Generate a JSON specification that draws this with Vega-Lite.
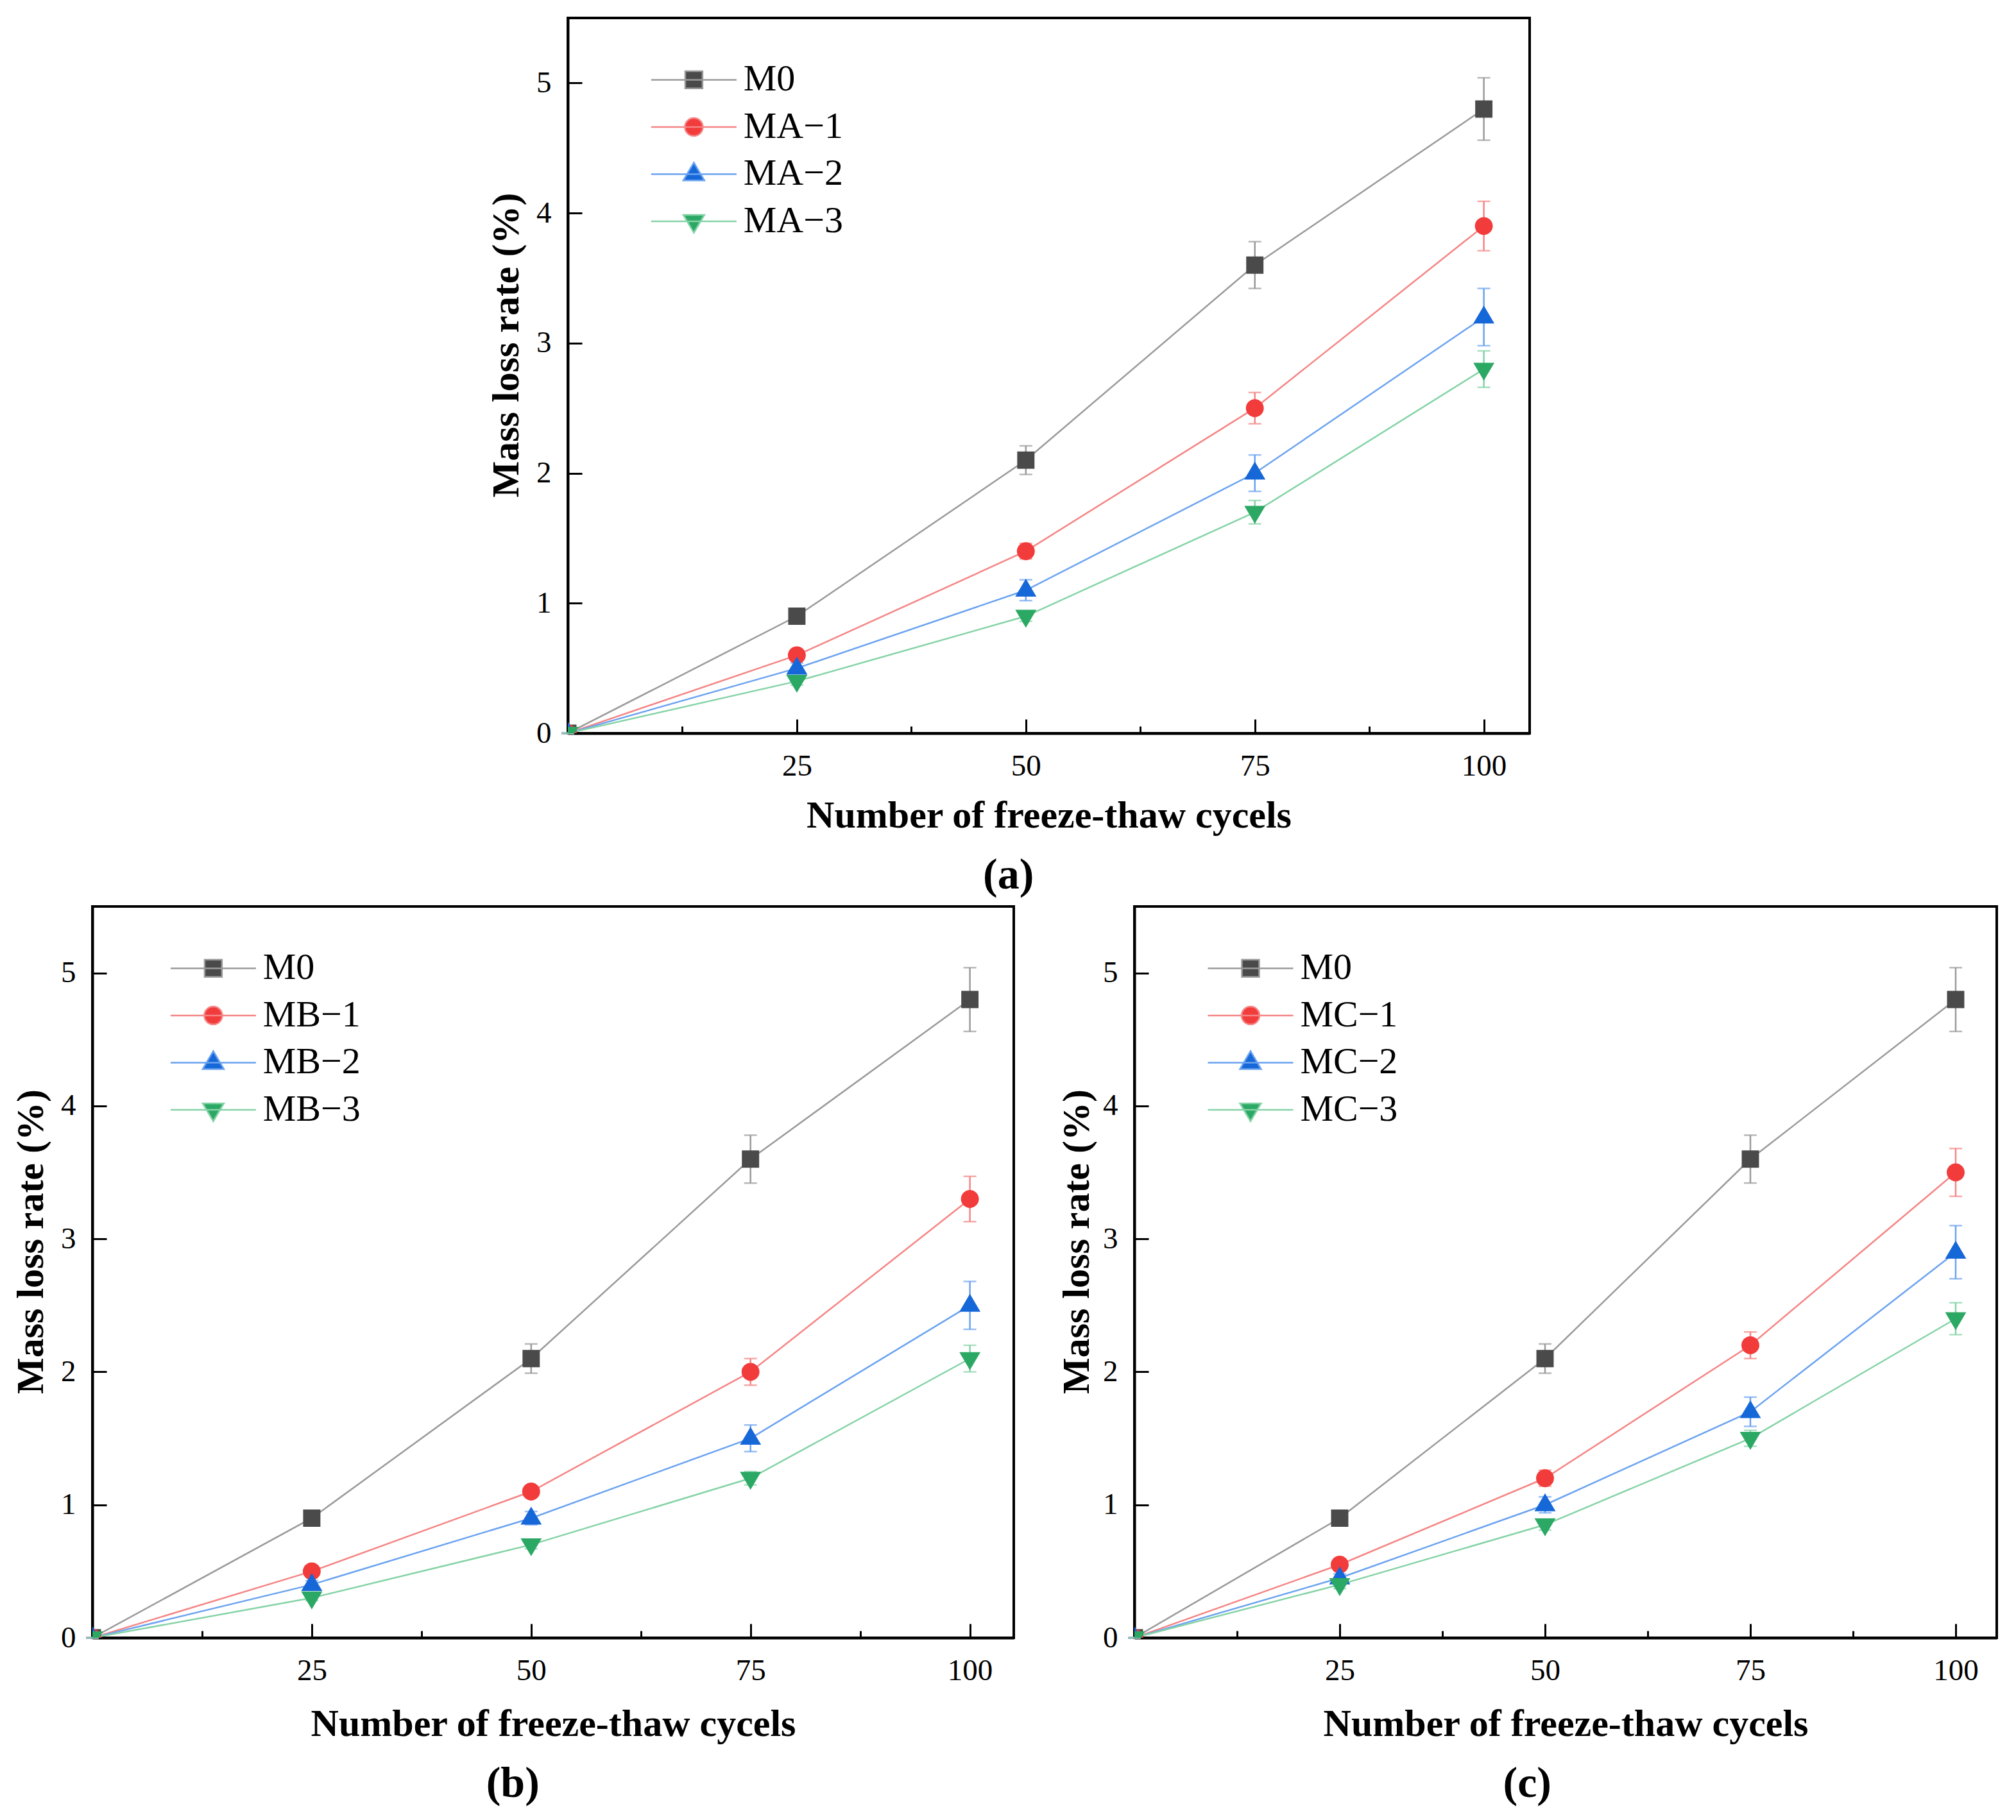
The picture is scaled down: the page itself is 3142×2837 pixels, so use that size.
{
  "$schema": "https://vega.github.io/schema/vega-lite/v6.json",
  "padding": {"left": 16, "top": 26, "right": 0, "bottom": 0},
  "datasets": {
    "pts": [
      {"p": "a", "s": "M0", "x": 0, "y": 0, "lo": 0, "hi": 0},
      {"p": "a", "s": "M0", "x": 25, "y": 0.9, "lo": 0.86, "hi": 0.94},
      {"p": "a", "s": "M0", "x": 50, "y": 2.1, "lo": 1.99, "hi": 2.21},
      {"p": "a", "s": "M0", "x": 75, "y": 3.6, "lo": 3.42, "hi": 3.78},
      {"p": "a", "s": "M0", "x": 100, "y": 4.8, "lo": 4.56, "hi": 5.04},
      {"p": "a", "s": "MA−1", "x": 0, "y": 0, "lo": 0, "hi": 0},
      {"p": "a", "s": "MA−1", "x": 25, "y": 0.6, "lo": 0.56, "hi": 0.64},
      {"p": "a", "s": "MA−1", "x": 50, "y": 1.4, "lo": 1.34, "hi": 1.46},
      {"p": "a", "s": "MA−1", "x": 75, "y": 2.5, "lo": 2.38, "hi": 2.62},
      {"p": "a", "s": "MA−1", "x": 100, "y": 3.9, "lo": 3.71, "hi": 4.09},
      {"p": "a", "s": "MA−2", "x": 0, "y": 0, "lo": 0, "hi": 0},
      {"p": "a", "s": "MA−2", "x": 25, "y": 0.5, "lo": 0.46, "hi": 0.54},
      {"p": "a", "s": "MA−2", "x": 50, "y": 1.1, "lo": 1.02, "hi": 1.18},
      {"p": "a", "s": "MA−2", "x": 75, "y": 2.0, "lo": 1.86, "hi": 2.14},
      {"p": "a", "s": "MA−2", "x": 100, "y": 3.2, "lo": 2.98, "hi": 3.42},
      {"p": "a", "s": "MA−3", "x": 0, "y": 0, "lo": 0, "hi": 0},
      {"p": "a", "s": "MA−3", "x": 25, "y": 0.4, "lo": 0.37, "hi": 0.43},
      {"p": "a", "s": "MA−3", "x": 50, "y": 0.9, "lo": 0.86, "hi": 0.94},
      {"p": "a", "s": "MA−3", "x": 75, "y": 1.7, "lo": 1.61, "hi": 1.79},
      {"p": "a", "s": "MA−3", "x": 100, "y": 2.8, "lo": 2.66, "hi": 2.94},
      {"p": "b", "s": "M0", "x": 0, "y": 0, "lo": 0, "hi": 0},
      {"p": "b", "s": "M0", "x": 25, "y": 0.9, "lo": 0.86, "hi": 0.94},
      {"p": "b", "s": "M0", "x": 50, "y": 2.1, "lo": 1.99, "hi": 2.21},
      {"p": "b", "s": "M0", "x": 75, "y": 3.6, "lo": 3.42, "hi": 3.78},
      {"p": "b", "s": "M0", "x": 100, "y": 4.8, "lo": 4.56, "hi": 5.04},
      {"p": "b", "s": "MB−1", "x": 0, "y": 0, "lo": 0, "hi": 0},
      {"p": "b", "s": "MB−1", "x": 25, "y": 0.5, "lo": 0.46, "hi": 0.54},
      {"p": "b", "s": "MB−1", "x": 50, "y": 1.1, "lo": 1.06, "hi": 1.14},
      {"p": "b", "s": "MB−1", "x": 75, "y": 2.0, "lo": 1.9, "hi": 2.1},
      {"p": "b", "s": "MB−1", "x": 100, "y": 3.3, "lo": 3.13, "hi": 3.47},
      {"p": "b", "s": "MB−2", "x": 0, "y": 0, "lo": 0, "hi": 0},
      {"p": "b", "s": "MB−2", "x": 25, "y": 0.4, "lo": 0.37, "hi": 0.43},
      {"p": "b", "s": "MB−2", "x": 50, "y": 0.9, "lo": 0.85, "hi": 0.95},
      {"p": "b", "s": "MB−2", "x": 75, "y": 1.5, "lo": 1.4, "hi": 1.6},
      {"p": "b", "s": "MB−2", "x": 100, "y": 2.5, "lo": 2.32, "hi": 2.68},
      {"p": "b", "s": "MB−3", "x": 0, "y": 0, "lo": 0, "hi": 0},
      {"p": "b", "s": "MB−3", "x": 25, "y": 0.3, "lo": 0.28, "hi": 0.32},
      {"p": "b", "s": "MB−3", "x": 50, "y": 0.7, "lo": 0.67, "hi": 0.73},
      {"p": "b", "s": "MB−3", "x": 75, "y": 1.2, "lo": 1.15, "hi": 1.25},
      {"p": "b", "s": "MB−3", "x": 100, "y": 2.1, "lo": 2.0, "hi": 2.2},
      {"p": "c", "s": "M0", "x": 0, "y": 0, "lo": 0, "hi": 0},
      {"p": "c", "s": "M0", "x": 25, "y": 0.9, "lo": 0.86, "hi": 0.94},
      {"p": "c", "s": "M0", "x": 50, "y": 2.1, "lo": 1.99, "hi": 2.21},
      {"p": "c", "s": "M0", "x": 75, "y": 3.6, "lo": 3.42, "hi": 3.78},
      {"p": "c", "s": "M0", "x": 100, "y": 4.8, "lo": 4.56, "hi": 5.04},
      {"p": "c", "s": "MC−1", "x": 0, "y": 0, "lo": 0, "hi": 0},
      {"p": "c", "s": "MC−1", "x": 25, "y": 0.55, "lo": 0.51, "hi": 0.59},
      {"p": "c", "s": "MC−1", "x": 50, "y": 1.2, "lo": 1.14, "hi": 1.26},
      {"p": "c", "s": "MC−1", "x": 75, "y": 2.2, "lo": 2.1, "hi": 2.3},
      {"p": "c", "s": "MC−1", "x": 100, "y": 3.5, "lo": 3.32, "hi": 3.68},
      {"p": "c", "s": "MC−2", "x": 0, "y": 0, "lo": 0, "hi": 0},
      {"p": "c", "s": "MC−2", "x": 25, "y": 0.45, "lo": 0.42, "hi": 0.48},
      {"p": "c", "s": "MC−2", "x": 50, "y": 1.0, "lo": 0.94, "hi": 1.06},
      {"p": "c", "s": "MC−2", "x": 75, "y": 1.7, "lo": 1.59, "hi": 1.81},
      {"p": "c", "s": "MC−2", "x": 100, "y": 2.9, "lo": 2.7, "hi": 3.1},
      {"p": "c", "s": "MC−3", "x": 0, "y": 0, "lo": 0, "hi": 0},
      {"p": "c", "s": "MC−3", "x": 25, "y": 0.4, "lo": 0.37, "hi": 0.43},
      {"p": "c", "s": "MC−3", "x": 50, "y": 0.85, "lo": 0.81, "hi": 0.89},
      {"p": "c", "s": "MC−3", "x": 75, "y": 1.5, "lo": 1.44, "hi": 1.56},
      {"p": "c", "s": "MC−3", "x": 100, "y": 2.4, "lo": 2.28, "hi": 2.52}
    ]
  },
  "data": {"name": "pts"},
  "spacing": 10,
  "vconcat": [
    {
      "bounds": "flush",
      "spacing": 0,
      "hconcat": [
        {
          "width": 741,
          "height": 1115,
          "view": {"fill": "white", "stroke": null},
          "data": {"values": []},
          "mark": "point"
        },
        {
          "width": 1499,
          "height": 1115,
          "title": {"text": "(a)"},
          "transform": [{"filter": "datum.p === 'a'"}],
          "layer": [
            {
              "mark": {"type": "line", "strokeWidth": 2.5, "clip": true},
              "encoding": {
                "x": {"field": "x", "type": "quantitative", "title": "Number of freeze-thaw cycels",
                  "scale": {"domain": [0, 105], "nice": false},
                  "axis": {"title": "Number of freeze-thaw cycels", "values": [12.5, 25, 37.5, 50, 62.5, 75, 87.5, 100], "format": "d",
                    "labelExpr": "datum.value % 25 === 0 ? datum.label : ''",
                    "tickSize": {"condition": {"test": "datum.value % 25 === 0", "value": -22}, "value": -11},
                    "labelPadding": 50, "titlePadding": 14.5}},
                "y": {"field": "y", "type": "quantitative", "title": "Mass loss rate (%)",
                  "scale": {"domain": [0, 5.5], "nice": false},
                  "axis": {"title": "Mass loss rate (%)", "values": [0, 0.5, 1, 1.5, 2, 2.5, 3, 3.5, 4, 4.5, 5], "format": "d",
                    "labelExpr": "datum.value % 1 === 0 ? datum.label : ''",
                    "tickSize": {"condition": {"test": "datum.value % 1 === 0", "value": -22}, "value": -11},
                    "labelPadding": 48, "titlePadding": 15, "titleY": 509.5}},
                "stroke": {"field": "s", "type": "nominal",
                  "scale": {"domain": ["M0", "MA−1", "MA−2", "MA−3"], "range": ["#9a9a9a", "#f58585", "#6ba3f0", "#85d3a6"]},
                  "legend": {"title": null, "orient": "none", "legendX": 167.4, "legendY": 67.4}}
              }
            },
            {
              "mark": {"type": "errorbar", "ticks": true, "size": 20, "thickness": 2.5},
              "encoding": {
                "x": {"field": "x", "type": "quantitative", "title": "Number of freeze-thaw cycels", "scale": {"domain": [0, 105], "nice": false}},
                "y": {"field": "lo", "type": "quantitative", "title": "Mass loss rate (%)", "scale": {"domain": [0, 5.5], "nice": false}},
                "y2": {"field": "hi"},
                "color": {"field": "s", "type": "nominal",
                  "scale": {"range": ["#9a9a9a", "#f58585", "#6ba3f0", "#85d3a6"]},
                  "legend": null}
              }
            },
            {
              "mark": {"type": "point", "filled": true, "opacity": 1, "size": 1105.56, "clip": true},
              "encoding": {
                "x": {"field": "x", "type": "quantitative", "title": "Number of freeze-thaw cycels", "scale": {"domain": [0, 105], "nice": false}},
                "y": {"field": "y", "type": "quantitative", "title": "Mass loss rate (%)", "scale": {"domain": [0, 5.5], "nice": false}},
                "fill": {"field": "s", "type": "nominal",
                  "scale": {"domain": ["M0", "MA−1", "MA−2", "MA−3"], "range": ["#4a4a4a", "#f23b3b", "#1668d8", "#2ca865"]},
                  "legend": {"title": null, "orient": "none", "legendX": 167.4, "legendY": 67.4}},
                "shape": {"field": "s", "type": "nominal",
                  "scale": {"domain": ["M0", "MA−1", "MA−2", "MA−3"], "range": [
                    "M-4,0H4M-0.81,-0.81H0.81V0.81H-0.81Z",
                    "M-4,0H4M-0.84,0A0.84,0.84,0,1,0,0.84,0A0.84,0.84,0,1,0,-0.84,0Z",
                    "M-4,0H4M0,-1.08L0.99,0.6L-0.99,0.6Z",
                    "M-4,0H4M0,1.08L0.99,-0.6L-0.99,-0.6Z"]},
                  "legend": {"title": null, "orient": "none", "legendX": 167.4, "legendY": 67.4}}
              }
            }
          ]
        }
      ],
      "resolve": {
        "scale": {"stroke": "independent", "fill": "independent", "shape": "independent", "color": "independent"},
        "legend": {"stroke": "independent", "fill": "independent", "shape": "independent", "color": "independent"}
      }
    },
    {
      "bounds": "flush",
      "spacing": 188,
      "hconcat": [
        {
          "width": 1436,
          "height": 1140,
          "title": {"text": "(b)"},
          "transform": [{"filter": "datum.p === 'b'"}],
          "layer": [
            {
              "mark": {"type": "line", "strokeWidth": 2.5, "clip": true},
              "encoding": {
                "x": {"field": "x", "type": "quantitative", "title": "Number of freeze-thaw cycels",
                  "scale": {"domain": [0, 105], "nice": false},
                  "axis": {"title": "Number of freeze-thaw cycels", "values": [12.5, 25, 37.5, 50, 62.5, 75, 87.5, 100], "format": "d",
                    "labelExpr": "datum.value % 25 === 0 ? datum.label : ''",
                    "tickSize": {"condition": {"test": "datum.value % 25 === 0", "value": -22}, "value": -11},
                    "labelPadding": 50, "titlePadding": 20.5}},
                "y": {"field": "y", "type": "quantitative", "title": "Mass loss rate (%)",
                  "scale": {"domain": [0, 5.5], "nice": false},
                  "axis": {"title": "Mass loss rate (%)", "values": [0, 0.5, 1, 1.5, 2, 2.5, 3, 3.5, 4, 4.5, 5], "format": "d",
                    "labelExpr": "datum.value % 1 === 0 ? datum.label : ''",
                    "tickSize": {"condition": {"test": "datum.value % 1 === 0", "value": -22}, "value": -11},
                    "labelPadding": 48, "titlePadding": 15, "titleY": 522}},
                "stroke": {"field": "s", "type": "nominal",
                  "scale": {"domain": ["M0", "MB−1", "MB−2", "MB−3"], "range": ["#9a9a9a", "#f58585", "#6ba3f0", "#85d3a6"]},
                  "legend": {"title": null, "orient": "none", "legendX": 159.4, "legendY": 67.4}}
              }
            },
            {
              "mark": {"type": "errorbar", "ticks": true, "size": 20, "thickness": 2.5},
              "encoding": {
                "x": {"field": "x", "type": "quantitative", "title": "Number of freeze-thaw cycels", "scale": {"domain": [0, 105], "nice": false}},
                "y": {"field": "lo", "type": "quantitative", "title": "Mass loss rate (%)", "scale": {"domain": [0, 5.5], "nice": false}},
                "y2": {"field": "hi"},
                "color": {"field": "s", "type": "nominal",
                  "scale": {"range": ["#9a9a9a", "#f58585", "#6ba3f0", "#85d3a6"]},
                  "legend": null}
              }
            },
            {
              "mark": {"type": "point", "filled": true, "opacity": 1, "size": 1105.56, "clip": true},
              "encoding": {
                "x": {"field": "x", "type": "quantitative", "title": "Number of freeze-thaw cycels", "scale": {"domain": [0, 105], "nice": false}},
                "y": {"field": "y", "type": "quantitative", "title": "Mass loss rate (%)", "scale": {"domain": [0, 5.5], "nice": false}},
                "fill": {"field": "s", "type": "nominal",
                  "scale": {"domain": ["M0", "MB−1", "MB−2", "MB−3"], "range": ["#4a4a4a", "#f23b3b", "#1668d8", "#2ca865"]},
                  "legend": {"title": null, "orient": "none", "legendX": 159.4, "legendY": 67.4}},
                "shape": {"field": "s", "type": "nominal",
                  "scale": {"domain": ["M0", "MB−1", "MB−2", "MB−3"], "range": [
                    "M-4,0H4M-0.81,-0.81H0.81V0.81H-0.81Z",
                    "M-4,0H4M-0.84,0A0.84,0.84,0,1,0,0.84,0A0.84,0.84,0,1,0,-0.84,0Z",
                    "M-4,0H4M0,-1.08L0.99,0.6L-0.99,0.6Z",
                    "M-4,0H4M0,1.08L0.99,-0.6L-0.99,-0.6Z"]},
                  "legend": {"title": null, "orient": "none", "legendX": 159.4, "legendY": 67.4}}
              }
            }
          ]
        },
        {
          "width": 1344,
          "height": 1140,
          "title": {"text": "(c)"},
          "transform": [{"filter": "datum.p === 'c'"}],
          "layer": [
            {
              "mark": {"type": "line", "strokeWidth": 2.5, "clip": true},
              "encoding": {
                "x": {"field": "x", "type": "quantitative", "title": "Number of freeze-thaw cycels",
                  "scale": {"domain": [0, 105], "nice": false},
                  "axis": {"title": "Number of freeze-thaw cycels", "values": [12.5, 25, 37.5, 50, 62.5, 75, 87.5, 100], "format": "d",
                    "labelExpr": "datum.value % 25 === 0 ? datum.label : ''",
                    "tickSize": {"condition": {"test": "datum.value % 25 === 0", "value": -22}, "value": -11},
                    "labelPadding": 50, "titlePadding": 20.5}},
                "y": {"field": "y", "type": "quantitative", "title": "Mass loss rate (%)",
                  "scale": {"domain": [0, 5.5], "nice": false},
                  "axis": {"title": "Mass loss rate (%)", "values": [0, 0.5, 1, 1.5, 2, 2.5, 3, 3.5, 4, 4.5, 5], "format": "d",
                    "labelExpr": "datum.value % 1 === 0 ? datum.label : ''",
                    "tickSize": {"condition": {"test": "datum.value % 1 === 0", "value": -22}, "value": -11},
                    "labelPadding": 48, "titlePadding": 9, "titleY": 522}},
                "stroke": {"field": "s", "type": "nominal",
                  "scale": {"domain": ["M0", "MC−1", "MC−2", "MC−3"], "range": ["#9a9a9a", "#f58585", "#6ba3f0", "#85d3a6"]},
                  "legend": {"title": null, "orient": "none", "legendX": 152, "legendY": 67.4}}
              }
            },
            {
              "mark": {"type": "errorbar", "ticks": true, "size": 20, "thickness": 2.5},
              "encoding": {
                "x": {"field": "x", "type": "quantitative", "title": "Number of freeze-thaw cycels", "scale": {"domain": [0, 105], "nice": false}},
                "y": {"field": "lo", "type": "quantitative", "title": "Mass loss rate (%)", "scale": {"domain": [0, 5.5], "nice": false}},
                "y2": {"field": "hi"},
                "color": {"field": "s", "type": "nominal",
                  "scale": {"range": ["#9a9a9a", "#f58585", "#6ba3f0", "#85d3a6"]},
                  "legend": null}
              }
            },
            {
              "mark": {"type": "point", "filled": true, "opacity": 1, "size": 1105.56, "clip": true},
              "encoding": {
                "x": {"field": "x", "type": "quantitative", "title": "Number of freeze-thaw cycels", "scale": {"domain": [0, 105], "nice": false}},
                "y": {"field": "y", "type": "quantitative", "title": "Mass loss rate (%)", "scale": {"domain": [0, 5.5], "nice": false}},
                "fill": {"field": "s", "type": "nominal",
                  "scale": {"domain": ["M0", "MC−1", "MC−2", "MC−3"], "range": ["#4a4a4a", "#f23b3b", "#1668d8", "#2ca865"]},
                  "legend": {"title": null, "orient": "none", "legendX": 152, "legendY": 67.4}},
                "shape": {"field": "s", "type": "nominal",
                  "scale": {"domain": ["M0", "MC−1", "MC−2", "MC−3"], "range": [
                    "M-4,0H4M-0.81,-0.81H0.81V0.81H-0.81Z",
                    "M-4,0H4M-0.84,0A0.84,0.84,0,1,0,0.84,0A0.84,0.84,0,1,0,-0.84,0Z",
                    "M-4,0H4M0,-1.08L0.99,0.6L-0.99,0.6Z",
                    "M-4,0H4M0,1.08L0.99,-0.6L-0.99,-0.6Z"]},
                  "legend": {"title": null, "orient": "none", "legendX": 152, "legendY": 67.4}}
              }
            }
          ]
        }
      ],
      "resolve": {
        "scale": {"stroke": "independent", "fill": "independent", "shape": "independent", "color": "independent"},
        "legend": {"stroke": "independent", "fill": "independent", "shape": "independent", "color": "independent"}
      }
    }
  ],
  "resolve": {
    "scale": {"stroke": "independent", "fill": "independent", "shape": "independent", "color": "independent"},
    "legend": {"stroke": "independent", "fill": "independent", "shape": "independent", "color": "independent"}
  },
  "config": {
    "background": "white",
    "font": "Liberation Serif",
    "view": {"stroke": "black", "strokeWidth": 4},
    "axis": {
      "grid": false,
      "domainColor": "black",
      "domainWidth": 4,
      "tickColor": "black",
      "tickWidth": 3,
      "labelFont": "Liberation Serif",
      "labelFontSize": 47,
      "labelColor": "black",
      "labelFlush": false,
      "labelOverlap": false,
      "titleFont": "Liberation Serif",
      "titleFontSize": 60,
      "titleFontWeight": "bold",
      "titleColor": "black"
    },
    "legend": {
      "symbolSize": 1105.56,
      "symbolStrokeWidth": 2.5,
      "labelFont": "Liberation Serif",
      "labelFontSize": 58,
      "labelColor": "black",
      "labelLimit": 400,
      "labelOffset": 48.4,
      "rowPadding": 15.5,
      "padding": 0,
      "symbolOffset": 0
    },
    "title": {
      "font": "Liberation Serif",
      "fontSize": 68,
      "fontWeight": "bold",
      "color": "black",
      "orient": "bottom",
      "anchor": "middle",
      "frame": "bounds",
      "offset": 29
    }
  }
}
